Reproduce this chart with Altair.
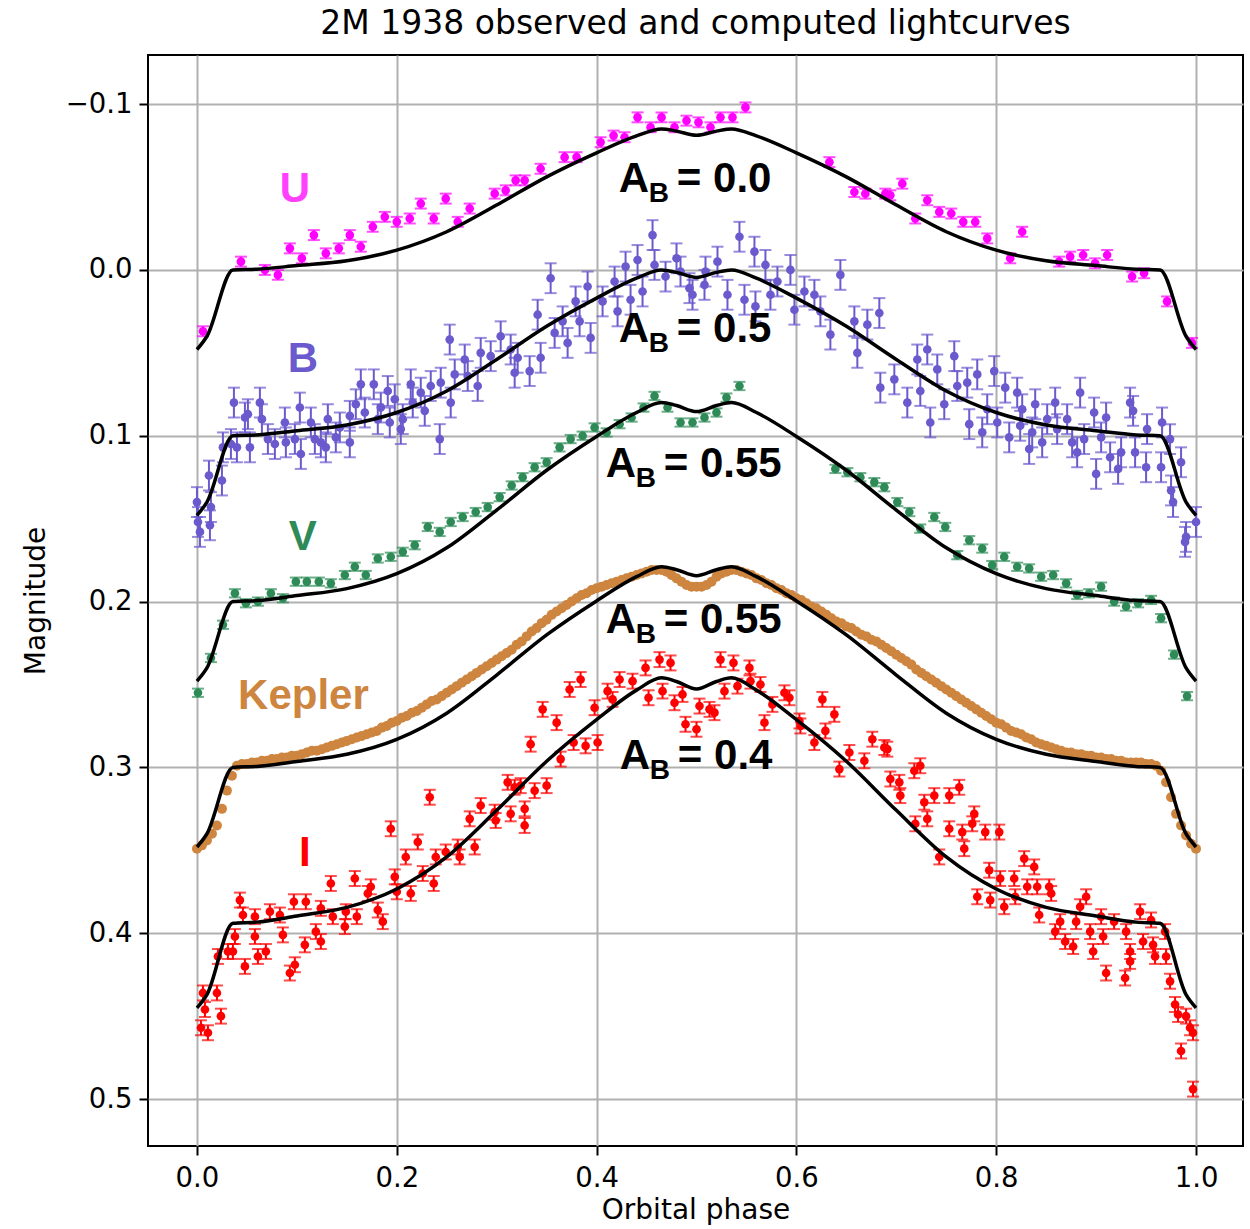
import altair as alt
import pandas as pd

# ---------------- data ----------------
BANDS = ["U", "B", "V", "Kepler", "I"]
COLORS = ["#ff00ff", "#6a5acd", "#2e8b57", "#cd853f", "#ff0000"]
ERRORS = [0.003, 0.009, 0.0025, 0.0, 0.0045]

MODEL_PHASE = [0.0, 0.01, 0.036, 0.06, 0.1, 0.15, 0.2, 0.25, 0.3, 0.35, 0.4, 0.44, 0.465, 0.48, 0.5,
               0.52, 0.535, 0.56, 0.6, 0.65, 0.7, 0.75, 0.8, 0.85, 0.9, 0.94, 0.964, 0.99, 1.0]
MODEL_U = [0.048, 0.040, 0.0, -0.0004, -0.0026, -0.0055, -0.0119, -0.0230, -0.0391, -0.0561, -0.0706,
           -0.0808, -0.085, -0.0837, -0.0812, -0.0837, -0.085, -0.0808, -0.0706, -0.0561, -0.0391,
           -0.0230, -0.0119, -0.0055, -0.0026, -0.0004, 0.0, 0.040, 0.048]
MODEL_B = [0.148, 0.140, 0.1, 0.0995, 0.097, 0.0935, 0.086, 0.073, 0.054, 0.034, 0.017, 0.005, 0.0,
           0.0015, 0.0045, 0.0015, 0.0, 0.005, 0.017, 0.034, 0.054, 0.073, 0.086, 0.0935, 0.097,
           0.0995, 0.1, 0.140, 0.148]
MODEL_V = [0.248, 0.240, 0.2, 0.1994, 0.1964, 0.1922, 0.1832, 0.1676, 0.1448, 0.1208, 0.1004, 0.086,
           0.080, 0.0818, 0.0854, 0.0818, 0.080, 0.086, 0.1004, 0.1208, 0.1448, 0.1676, 0.1832,
           0.1922, 0.1964, 0.1994, 0.2, 0.240, 0.248]
MODEL_K = [0.348, 0.340, 0.3, 0.2994, 0.2964, 0.2921, 0.2831, 0.2673, 0.2443, 0.2201, 0.1996, 0.185,
           0.179, 0.1808, 0.1844, 0.1808, 0.179, 0.185, 0.1996, 0.2201, 0.2443, 0.2673, 0.2831,
           0.2921, 0.2964, 0.2994, 0.3, 0.340, 0.348]
MODEL_I = [0.445, 0.437, 0.394, 0.3933, 0.3896, 0.3844, 0.3733, 0.3540, 0.3259, 0.2963, 0.2712,
           0.2534, 0.246, 0.2482, 0.2527, 0.2482, 0.246, 0.2534, 0.2712, 0.2963, 0.3259, 0.3540,
           0.3733, 0.3844, 0.3896, 0.3933, 0.394, 0.437, 0.445]

U_POINTS = [(0.006, 0.037), (0.044, -0.005), (0.068, 0.000), (0.081, 0.003), (0.093, -0.013),
            (0.105, -0.007), (0.117, -0.021), (0.129, -0.010), (0.142, -0.013), (0.153, -0.021),
            (0.164, -0.014), (0.176, -0.026), (0.188, -0.032), (0.200, -0.029), (0.213, -0.031),
            (0.224, -0.040), (0.237, -0.031), (0.249, -0.043), (0.261, -0.029), (0.273, -0.037),
            (0.298, -0.046), (0.309, -0.048), (0.319, -0.054), (0.328, -0.054), (0.344, -0.061),
            (0.368, -0.068), (0.380, -0.068), (0.404, -0.077), (0.417, -0.081), (0.428, -0.080),
            (0.441, -0.092), (0.454, -0.086), (0.465, -0.092), (0.478, -0.086), (0.490, -0.090),
            (0.502, -0.089), (0.514, -0.086), (0.524, -0.092), (0.536, -0.092), (0.549, -0.098),
            (0.633, -0.065), (0.658, -0.047), (0.669, -0.046), (0.689, -0.046), (0.694, -0.045),
            (0.706, -0.052), (0.719, -0.031), (0.731, -0.042), (0.743, -0.035), (0.755, -0.034),
            (0.767, -0.029), (0.779, -0.029), (0.791, -0.019), (0.814, -0.007), (0.826, -0.023),
            (0.863, -0.005), (0.874, -0.008), (0.887, -0.009), (0.899, -0.004), (0.911, -0.009),
            (0.936, 0.004), (0.948, 0.002), (0.971, 0.019), (0.996, 0.044)]

B_POINTS = [(0.000, 0.140), (0.001, 0.152), (0.003, 0.158), (0.013, 0.154), (0.014, 0.143),
            (0.012, 0.124), (0.025, 0.127), (0.026, 0.107), (0.034, 0.105), (0.037, 0.080),
            (0.040, 0.107), (0.048, 0.089), (0.051, 0.087), (0.053, 0.107), (0.063, 0.080),
            (0.065, 0.090), (0.071, 0.102), (0.078, 0.105), (0.088, 0.092), (0.089, 0.104),
            (0.098, 0.102), (0.103, 0.083), (0.104, 0.111), (0.114, 0.092), (0.118, 0.102),
            (0.124, 0.104), (0.129, 0.107), (0.131, 0.090), (0.139, 0.101), (0.143, 0.095),
            (0.153, 0.104), (0.153, 0.088), (0.159, 0.081), (0.164, 0.069), (0.168, 0.086),
            (0.177, 0.069), (0.181, 0.090), (0.184, 0.083), (0.191, 0.073), (0.193, 0.092),
            (0.198, 0.078), (0.204, 0.096), (0.206, 0.090), (0.214, 0.069), (0.216, 0.080),
            (0.224, 0.074), (0.228, 0.085), (0.234, 0.070), (0.243, 0.102), (0.244, 0.068),
            (0.253, 0.042), (0.254, 0.080), (0.258, 0.063), (0.268, 0.054), (0.271, 0.064),
            (0.281, 0.070), (0.284, 0.050), (0.294, 0.052), (0.304, 0.040), (0.314, 0.048),
            (0.318, 0.062), (0.321, 0.053), (0.333, 0.061), (0.341, 0.027), (0.344, 0.053),
            (0.354, 0.005), (0.358, 0.038), (0.366, 0.031), (0.371, 0.044), (0.379, 0.019),
            (0.383, 0.031), (0.391, 0.010), (0.394, 0.041), (0.406, 0.019), (0.418, 0.007),
            (0.421, 0.025), (0.429, -0.002), (0.434, 0.018), (0.441, -0.006), (0.446, 0.013),
            (0.456, -0.021), (0.458, -0.003), (0.469, 0.004), (0.480, -0.007), (0.484, 0.001),
            (0.493, 0.011), (0.496, 0.015), (0.508, 0.009), (0.509, 0.001), (0.521, -0.005),
            (0.531, 0.015), (0.543, -0.020), (0.548, 0.018), (0.558, -0.011), (0.559, 0.022),
            (0.569, -0.003), (0.574, 0.015), (0.581, 0.007), (0.594, 0.000), (0.598, 0.024),
            (0.608, 0.013), (0.618, 0.015), (0.624, 0.025), (0.634, 0.039), (0.644, 0.003),
            (0.658, 0.031), (0.661, 0.050), (0.671, 0.033), (0.683, 0.026), (0.684, 0.071),
            (0.698, 0.066), (0.711, 0.080), (0.721, 0.054), (0.724, 0.073), (0.731, 0.048),
            (0.734, 0.092), (0.741, 0.060), (0.748, 0.081), (0.758, 0.052), (0.761, 0.070),
            (0.771, 0.068), (0.773, 0.093), (0.781, 0.063), (0.786, 0.098), (0.791, 0.084),
            (0.798, 0.061), (0.801, 0.092), (0.809, 0.071), (0.813, 0.101), (0.821, 0.074),
            (0.824, 0.094), (0.826, 0.084), (0.833, 0.108), (0.836, 0.098), (0.839, 0.081),
            (0.846, 0.104), (0.851, 0.090), (0.859, 0.080), (0.861, 0.096), (0.871, 0.090),
            (0.876, 0.104), (0.881, 0.110), (0.884, 0.074), (0.888, 0.102), (0.898, 0.086),
            (0.900, 0.123), (0.905, 0.101), (0.910, 0.089), (0.914, 0.113), (0.922, 0.120),
            (0.925, 0.110), (0.934, 0.080), (0.937, 0.085), (0.939, 0.110), (0.950, 0.119),
            (0.951, 0.096), (0.965, 0.119), (0.966, 0.092), (0.974, 0.102), (0.975, 0.133),
            (0.977, 0.140), (0.985, 0.116), (0.989, 0.164), (0.990, 0.161), (1.000, 0.152)]

V_POINTS = [(0.001, 0.255), (0.014, 0.234), (0.026, 0.214), (0.038, 0.195), (0.049, 0.201),
            (0.061, 0.200), (0.074, 0.195), (0.086, 0.198), (0.099, 0.188), (0.110, 0.188),
            (0.122, 0.188), (0.134, 0.189), (0.148, 0.184), (0.158, 0.179), (0.169, 0.184),
            (0.181, 0.174), (0.194, 0.173), (0.206, 0.170), (0.218, 0.166), (0.231, 0.155),
            (0.243, 0.158), (0.254, 0.152), (0.266, 0.149), (0.279, 0.146), (0.291, 0.143),
            (0.303, 0.137), (0.315, 0.130), (0.326, 0.125), (0.338, 0.119), (0.350, 0.116),
            (0.363, 0.107), (0.374, 0.102), (0.386, 0.100), (0.398, 0.095), (0.410, 0.098),
            (0.423, 0.093), (0.435, 0.089), (0.447, 0.083), (0.458, 0.076), (0.471, 0.083),
            (0.484, 0.092), (0.496, 0.092), (0.508, 0.089), (0.520, 0.086), (0.530, 0.077),
            (0.543, 0.070), (0.639, 0.120), (0.651, 0.122), (0.664, 0.125), (0.678, 0.128),
            (0.688, 0.131), (0.701, 0.140), (0.713, 0.146), (0.724, 0.156), (0.738, 0.149),
            (0.749, 0.155), (0.761, 0.172), (0.773, 0.163), (0.786, 0.168), (0.796, 0.178),
            (0.808, 0.173), (0.821, 0.179), (0.833, 0.180), (0.845, 0.185), (0.857, 0.184),
            (0.870, 0.189), (0.881, 0.196), (0.893, 0.195), (0.905, 0.191), (0.918, 0.200),
            (0.930, 0.203), (0.942, 0.201), (0.955, 0.199), (0.965, 0.210), (0.978, 0.232),
            (0.991, 0.257)]

KEPLER_PHASE = [round(0.005 * k, 3) for k in range(201)]
KEPLER_MAG = [0.349, 0.347, 0.344, 0.340, 0.335, 0.325, 0.314, 0.305, 0.299, 0.298,
              0.298, 0.297, 0.297, 0.296, 0.296, 0.295, 0.295, 0.294, 0.294, 0.293,
              0.293, 0.292, 0.291, 0.290, 0.290, 0.289, 0.288, 0.287, 0.286, 0.285,
              0.284, 0.283, 0.282, 0.281, 0.280, 0.279, 0.278, 0.276, 0.275, 0.273,
              0.272, 0.270, 0.269, 0.267, 0.266, 0.264, 0.262, 0.260, 0.259, 0.257,
              0.255, 0.253, 0.251, 0.249, 0.247, 0.245, 0.243, 0.241, 0.239, 0.237,
              0.235, 0.233, 0.231, 0.229, 0.226, 0.224, 0.221, 0.218, 0.216, 0.213,
              0.211, 0.208, 0.206, 0.204, 0.202, 0.200, 0.198, 0.196, 0.195, 0.193,
              0.192, 0.191, 0.190, 0.189, 0.188, 0.187, 0.186, 0.185, 0.184, 0.183,
              0.182, 0.181, 0.181, 0.181, 0.182, 0.184, 0.186, 0.188, 0.190, 0.191,
              0.191, 0.191, 0.190, 0.188, 0.185, 0.183, 0.182, 0.181, 0.181, 0.182,
              0.183, 0.184, 0.186, 0.187, 0.189, 0.190, 0.192, 0.193, 0.195, 0.196,
              0.198, 0.199, 0.201, 0.203, 0.204, 0.206, 0.208, 0.210, 0.212, 0.213,
              0.215, 0.216, 0.218, 0.220, 0.221, 0.223, 0.224, 0.226, 0.228, 0.230,
              0.232, 0.234, 0.236, 0.238, 0.241, 0.243, 0.245, 0.247, 0.249, 0.251,
              0.253, 0.255, 0.257, 0.259, 0.261, 0.263, 0.265, 0.267, 0.269, 0.271,
              0.273, 0.274, 0.276, 0.278, 0.279, 0.280, 0.282, 0.283, 0.285, 0.286,
              0.287, 0.288, 0.289, 0.290, 0.291, 0.291, 0.292, 0.292, 0.293, 0.293,
              0.294, 0.294, 0.295, 0.295, 0.296, 0.296, 0.297, 0.297, 0.297, 0.297,
              0.298, 0.298, 0.299, 0.302, 0.309, 0.318, 0.328, 0.335, 0.341, 0.346,
              0.349]

I_POINTS = [(0.006, 0.436), (0.008, 0.446), (0.004, 0.457), (0.011, 0.460), (0.020, 0.436),
            (0.024, 0.450), (0.021, 0.414), (0.031, 0.411), (0.036, 0.411), (0.038, 0.402),
            (0.043, 0.380), (0.046, 0.389), (0.048, 0.420), (0.058, 0.390), (0.058, 0.402),
            (0.061, 0.414), (0.069, 0.411), (0.073, 0.387), (0.083, 0.389), (0.086, 0.401),
            (0.093, 0.424), (0.098, 0.419), (0.097, 0.381), (0.108, 0.407), (0.109, 0.381),
            (0.119, 0.399), (0.124, 0.405), (0.124, 0.385), (0.134, 0.370), (0.136, 0.390),
            (0.148, 0.396), (0.149, 0.387), (0.158, 0.367), (0.160, 0.390), (0.171, 0.376),
            (0.174, 0.372), (0.181, 0.386), (0.186, 0.393), (0.194, 0.337), (0.198, 0.366),
            (0.200, 0.375), (0.209, 0.354), (0.214, 0.376), (0.221, 0.345), (0.226, 0.364),
            (0.233, 0.318), (0.237, 0.370), (0.239, 0.354), (0.249, 0.351), (0.261, 0.348),
            (0.263, 0.354), (0.273, 0.331), (0.278, 0.348), (0.284, 0.323), (0.298, 0.327),
            (0.299, 0.332), (0.311, 0.309), (0.314, 0.328), (0.318, 0.312), (0.324, 0.311),
            (0.328, 0.325), (0.328, 0.335), (0.338, 0.314), (0.350, 0.311), (0.334, 0.286),
            (0.346, 0.265), (0.360, 0.273), (0.364, 0.295), (0.373, 0.253), (0.377, 0.285),
            (0.384, 0.247), (0.389, 0.287), (0.398, 0.264), (0.401, 0.285), (0.411, 0.254),
            (0.416, 0.259), (0.423, 0.247), (0.436, 0.248), (0.449, 0.240), (0.452, 0.258),
            (0.463, 0.235), (0.466, 0.254), (0.474, 0.237), (0.478, 0.261), (0.486, 0.256),
            (0.489, 0.274), (0.500, 0.277), (0.503, 0.263), (0.513, 0.265), (0.518, 0.267),
            (0.524, 0.235), (0.528, 0.254), (0.537, 0.237), (0.541, 0.251), (0.553, 0.240),
            (0.554, 0.248), (0.564, 0.250), (0.568, 0.273), (0.576, 0.262), (0.588, 0.255),
            (0.593, 0.258), (0.603, 0.272), (0.604, 0.275), (0.618, 0.285), (0.626, 0.259),
            (0.629, 0.278), (0.638, 0.268), (0.643, 0.301), (0.653, 0.291), (0.668, 0.296),
            (0.676, 0.283), (0.688, 0.288), (0.691, 0.289), (0.694, 0.307), (0.703, 0.309),
            (0.704, 0.317), (0.718, 0.302), (0.719, 0.334), (0.724, 0.299), (0.728, 0.321),
            (0.731, 0.331), (0.738, 0.317), (0.743, 0.354), (0.753, 0.337), (0.753, 0.317),
            (0.763, 0.312), (0.766, 0.339), (0.768, 0.349), (0.776, 0.334), (0.778, 0.328),
            (0.781, 0.378), (0.789, 0.339), (0.793, 0.362), (0.794, 0.380), (0.803, 0.339),
            (0.804, 0.367), (0.808, 0.384), (0.818, 0.367), (0.819, 0.378), (0.828, 0.355),
            (0.831, 0.372), (0.838, 0.360), (0.841, 0.372), (0.843, 0.389), (0.853, 0.372),
            (0.855, 0.376), (0.859, 0.399), (0.864, 0.393), (0.869, 0.405), (0.877, 0.408),
            (0.880, 0.393), (0.884, 0.384), (0.890, 0.378), (0.894, 0.399), (0.897, 0.411),
            (0.905, 0.390), (0.907, 0.402), (0.910, 0.424), (0.918, 0.393), (0.930, 0.399),
            (0.929, 0.427), (0.934, 0.417), (0.934, 0.411), (0.944, 0.387), (0.947, 0.405),
            (0.955, 0.392), (0.957, 0.407), (0.959, 0.414), (0.969, 0.399), (0.970, 0.414),
            (0.974, 0.429), (0.979, 0.443), (0.982, 0.449), (0.985, 0.471), (0.990, 0.450),
            (0.994, 0.457), (0.997, 0.460), (0.997, 0.494)]

# annotation positions (data units)
BAND_LABEL_PHASE = [0.098, 0.106, 0.106, 0.1066, 0.108]
BAND_LABEL_MAG = [-0.041, 0.0614, 0.1687, 0.265, 0.3596]
LABEL_COLORS = ["#ff40ff", "#6a5acd", "#2e8b57", "#cd853f", "#ff0000"]
ALBEDO_TEXT = ["= 0.0", "= 0.5", "= 0.55", "= 0.55", "= 0.4"]
ALBEDO_PHASE = [0.4223, 0.4223, 0.4092, 0.4092, 0.4233]
ALBEDO_MAG = [-0.047, 0.0434, 0.1247, 0.2187, 0.3012]

X_TICKS = [0.0, 0.2, 0.4, 0.6, 0.8, 1.0]
Y_TICKS = [-0.1, 0.0, 0.1, 0.2, 0.3, 0.4, 0.5]

# ---------------- tables ----------------
err_of = dict(zip(BANDS, ERRORS))
rows = []
for band, pts in [("U", U_POINTS), ("B", B_POINTS), ("V", V_POINTS), ("I", I_POINTS)]:
    for p, m in pts:
        rows.append({"band": band, "phase": p, "mag": m,
                     "lo": m - err_of[band], "hi": m + err_of[band]})
obs = pd.DataFrame(rows)
kep = pd.DataFrame({"band": "Kepler", "phase": KEPLER_PHASE, "mag": KEPLER_MAG})

mrows = []
for band, vals in zip(BANDS, [MODEL_U, MODEL_B, MODEL_V, MODEL_K, MODEL_I]):
    for i, (p, m) in enumerate(zip(MODEL_PHASE, vals)):
        mrows.append({"band": band, "phase": p, "mag": m, "order": i})
model = pd.DataFrame(mrows)

labels = pd.DataFrame({"text": BANDS, "phase": BAND_LABEL_PHASE, "mag": BAND_LABEL_MAG,
                       "col": LABEL_COLORS})
albedo = pd.DataFrame({"text": ALBEDO_TEXT, "phase": ALBEDO_PHASE, "mag": ALBEDO_MAG})

# ---------------- scales / axes ----------------
FONT = "DejaVu Sans"
xs = alt.Scale(domain=[-0.049, 1.047], nice=False, zero=False)
ys = alt.Scale(domain=[-0.1296, 0.5283], nice=False, zero=False, reverse=True)
xaxis = alt.Axis(values=X_TICKS, format=".1f", title="Orbital phase", grid=True,
                 gridColor="#b0b0b0", gridWidth=2, domain=False, tickColor="black",
                 tickSize=9, tickWidth=2, labelFont=FONT, labelFontSize=27.5, labelColor="black",
                 labelPadding=9, titleFont=FONT, titleFontSize=28, titleFontWeight="normal",
                 titleColor="black", titlePadding=5, labelFlush=False)
yaxis = alt.Axis(values=Y_TICKS, title="Magnitude", grid=True, gridColor="#b0b0b0",
                 gridWidth=2, domain=False, tickColor="black", tickSize=9, tickWidth=2,
                 labelFont=FONT, labelFontSize=27.5, labelColor="black", labelPadding=7,
                 labelExpr="replace(format(datum.value, '.1f'), '-', '\u2212')",
                 titleFont=FONT, titleFontSize=28, titleFontWeight="normal",
                 titleColor="black", titlePadding=15, labelFlush=False)

X = alt.X("phase:Q", scale=xs, axis=xaxis)
Y = alt.Y("mag:Q", scale=ys, axis=yaxis)
COLOR = alt.Color("band:N", scale=alt.Scale(domain=BANDS, range=COLORS), legend=None)

bars = alt.Chart(obs).mark_rule(strokeWidth=2).encode(
    x=X, y=alt.Y("lo:Q", scale=ys, axis=yaxis), y2="hi:Q", color=COLOR)
cap_lo = alt.Chart(obs).mark_tick(orient="horizontal", size=12, thickness=2).encode(
    x=X, y=alt.Y("lo:Q", scale=ys, axis=yaxis), color=COLOR)
cap_hi = alt.Chart(obs).mark_tick(orient="horizontal", size=12, thickness=2).encode(
    x=X, y=alt.Y("hi:Q", scale=ys, axis=yaxis), color=COLOR)
dots = alt.Chart(obs).mark_circle(size=75, opacity=1).encode(x=X, y=Y, color=COLOR)
kdots = alt.Chart(kep).mark_circle(size=100, opacity=1).encode(x=X, y=Y, color=COLOR)
lines = alt.Chart(model).mark_line(color="black", strokeWidth=3.5, interpolate="monotone").encode(
    x=X, y=Y, detail="band:N", order="order:Q")

band_text = alt.Chart(labels).mark_text(font="Liberation Sans", fontSize=42, fontWeight="bold",
                                        align="center", baseline="alphabetic").encode(
    x=X, y=Y, text="text:N", color=alt.Color("col:N", scale=None))
a_text = alt.Chart(albedo).mark_text(font="Liberation Sans", fontSize=42, fontWeight="bold",
                                     align="left", baseline="alphabetic", color="black").encode(
    x=X, y=Y, text=alt.value("A"))
b_text = alt.Chart(albedo).mark_text(font="Liberation Sans", fontSize=28, fontWeight="bold",
                                     align="left", baseline="alphabetic", color="black",
                                     dx=30, dy=10).encode(x=X, y=Y, text=alt.value("B"))
v_text = alt.Chart(albedo).mark_text(font="Liberation Sans", fontSize=42, fontWeight="bold",
                                     align="left", baseline="alphabetic", color="black",
                                     dx=58).encode(x=X, y=Y, text="text:N")

chart = alt.layer(bars, cap_lo, cap_hi, dots, kdots, lines, band_text, a_text, b_text, v_text).properties(
    width=1095, height=1091,
    background="white",
    title=alt.TitleParams("2M 1938 observed and computed lightcurves", font=FONT, fontSize=33,
                          fontWeight="normal", color="black", anchor="middle",
                          baseline="alphabetic", offset=-12),
    autosize=alt.AutoSizeParams(type="none"),
    padding={"left": 148, "top": 55, "right": 7, "bottom": 83},
).configure_view(stroke="black", strokeWidth=2)

chart.save("out.html", embed_options={"renderer": "svg", "actions": False})
